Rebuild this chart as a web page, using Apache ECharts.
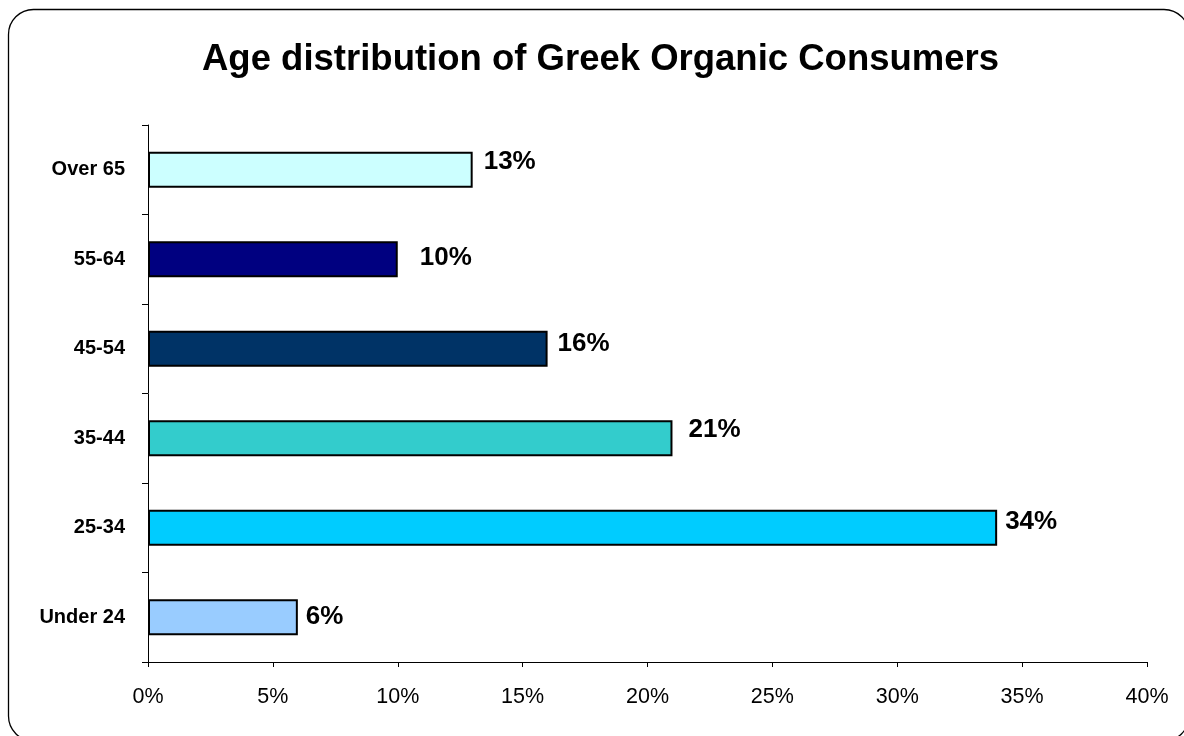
<!DOCTYPE html>
<html>
<head>
<meta charset="utf-8">
<script src="https://cdn.jsdelivr.net/npm/echarts@6/dist/echarts.min.js"></script>
<style>
  html, body { margin: 0; padding: 0; background: #fff; }
  #chart { width: 1184px; height: 736px; }
</style>
</head>
<body>
<div id="chart"></div>
<script>
// Age groups, bottom to top as drawn on the category axis
var ageGroups = ['Under 24', '25-34', '35-44', '45-54', '55-64', 'Over 65'];
// Share of consumers in each age group (%)
var shares = [6, 34, 21, 16, 10, 13];
// Fill colour of each bar
var barColors = ['#99CCFF', '#00CCFF', '#33CCCC', '#003366', '#000080', '#CCFFFF'];
// Hand-placed nudges [dx, dy] of each value label
var labelNudges = [[0, 0], [0, -6], [8, -8], [2, -5], [14, -1], [3, -8]];

var chart = echarts.init(document.getElementById('chart'));
var font = 'Liberation Sans, Arial, sans-serif';

chart.setOption({
  animation: false,
  backgroundColor: '#ffffff',
  title: {
    text: 'Age distribution of Greek Organic Consumers',
    left: 197,
    top: 36,
    textStyle: { fontFamily: font, fontSize: 36.5, fontWeight: 'bold', color: '#000' }
  },
  graphic: [{
    type: 'rect',
    shape: { x: 8.5, y: 9.5, width: 1180.5, height: 731.5, r: 25 },
    style: { fill: 'none', stroke: '#000', lineWidth: 1.3 },
    silent: true
  }],
  grid: { left: 148, right: 37, top: 125, bottom: 74, containLabel: false },
  xAxis: {
    type: 'value',
    min: 0,
    max: 40,
    interval: 5,
    axisLine: { show: true, lineStyle: { color: '#000', width: 1 } },
    axisTick: { show: true, length: 5, lineStyle: { color: '#000' } },
    splitLine: { show: false },
    axisLabel: {
      formatter: '{value}%',
      margin: 24,
      fontFamily: font,
      fontSize: 21.5,
      color: '#000'
    }
  },
  yAxis: {
    type: 'category',
    data: ageGroups,
    boundaryGap: true,
    axisLine: { show: true, lineStyle: { color: '#000', width: 1 } },
    axisTick: { show: true, length: 6, alignWithLabel: false, lineStyle: { color: '#000' } },
    axisLabel: {
      margin: 23,
      fontFamily: font,
      fontSize: 20,
      fontWeight: 'bold',
      color: '#000'
    }
  },
  series: [{
    type: 'bar',
    data: shares.map(function (v, i) {
      return {
        value: v,
        itemStyle: { color: barColors[i] },
        label: { offset: labelNudges[i] }
      };
    }),
    barWidth: 36,
    itemStyle: { borderColor: '#000', borderWidth: 2 },
    label: {
      show: true,
      position: 'right',
      distance: 8,
      formatter: '{c}%',
      fontFamily: font,
      fontSize: 26,
      fontWeight: 'bold',
      color: '#000'
    }
  }]
});
</script>
</body>
</html>
